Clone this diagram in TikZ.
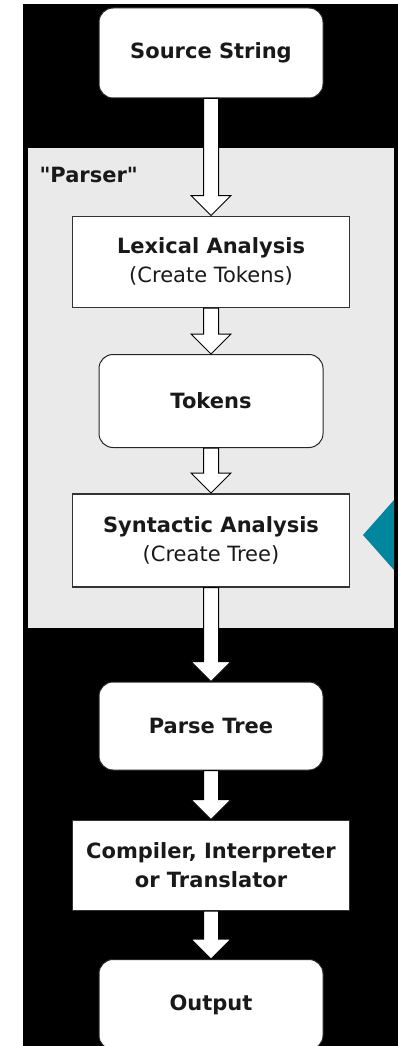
\documentclass[tikz,border=0pt]{standalone}
\usepackage{fontspec}
\newfontfamily\diagfont{DejaVu Sans}
\usepackage{xcolor}
\usetikzlibrary{positioning,calc}

\definecolor{panelgray}{RGB}{234,234,234}
\definecolor{pointerteal}{RGB}{0,134,158}

% hollow block arrow from the bottom of one box to the top of the next
\newcommand{\BlockArrow}[2]{%
  \draw[blockarrow] let \p1=(#1.south), \p2=(#2.north) in
    (\x1-7.5pt,\y1) -- (\x1-7.5pt,\y2+20pt) -- (\x1-20pt,\y2+20pt) -- (\x1,\y2)
    -- (\x1+20pt,\y2+20pt) -- (\x1+7.5pt,\y2+20pt) -- (\x1+7.5pt,\y1) -- cycle;}

\begin{document}
\begin{tikzpicture}[x=1pt,y=-1pt,
  roundbox/.style={draw=black!85, fill=white, rounded corners=14pt, line width=1pt,
    minimum width=224pt, minimum height=90pt, text=black!90,
    font=\diagfont\bfseries\fontsize{21}{28}\selectfont},
  sqbox/.style={draw=black!80, fill=white, line width=1.5pt, align=center,
    minimum width=277pt, minimum height=91pt, text=black!90,
    font=\diagfont\bfseries\fontsize{21}{29}\selectfont},
  blockarrow/.style={draw=black, fill=white, line width=1pt, line join=miter}]
\useasboundingbox (0,0) rectangle (398,1046);
\fill[white] (0,0) rectangle (398,1046);
\fill[black] (23,4) rectangle (398,1046);
\fill[panelgray] (28,148) rectangle (394,628);
\node[anchor=west, text=black!90, font=\diagfont\bfseries\fontsize{21}{28}\selectfont] (plabel) at (36,175) {"Parser"};
\node[roundbox] (src) at (211,53) {Source String};
\node[sqbox, below=117pt of src] (lex) {Lexical Analysis\\{\mdseries (Create Tokens)}};
\node[roundbox, below=46pt of lex, minimum height=93pt] (tok) {Tokens};
\node[sqbox, below=45pt of tok, minimum height=93pt] (syn) {Syntactic Analysis\\{\mdseries (Create Tree)}};
\node[roundbox, below=94pt of syn, minimum height=88pt] (tree) {Parse Tree};
\node[sqbox, below=49pt of tree, minimum height=90pt] (comp) {Compiler, Interpreter\\or Translator};
\node[roundbox, below=48pt of comp] (out) {Output};
\fill[pointerteal] (363,535) -- (394,500) -- (394,570) -- cycle;
\BlockArrow{src}{lex}
\BlockArrow{lex}{tok}
\BlockArrow{tok}{syn}
\BlockArrow{syn}{tree}
\BlockArrow{tree}{comp}
\BlockArrow{comp}{out}
\end{tikzpicture}
\end{document}
